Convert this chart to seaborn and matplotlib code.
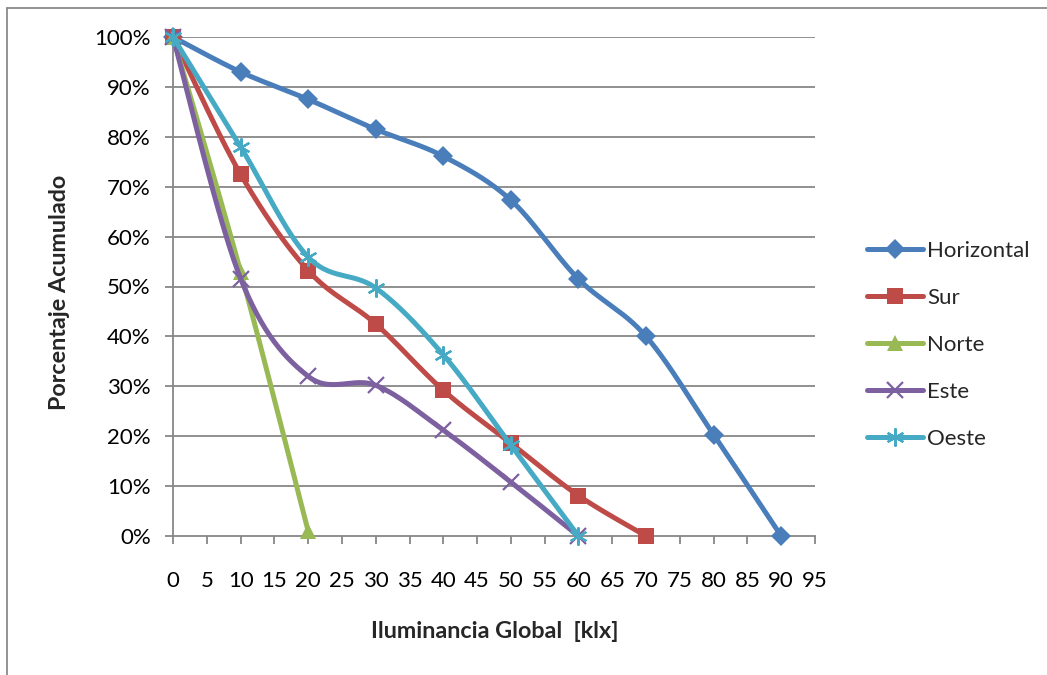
import numpy as np
import pandas as pd
import matplotlib
matplotlib.use("Agg")
import matplotlib.pyplot as plt
from matplotlib.lines import Line2D
import seaborn as sns

# ---------------- data ----------------
series_names = ["Horizontal", "Sur", "Norte", "Este", "Oeste"]
x_horizontal = [0, 10, 20, 30, 40, 50, 60, 70, 80, 90]
y_horizontal = [100, 93.0, 87.5, 81.5, 76.1, 67.3, 51.5, 40.0, 20.3, 0]
x_sur = [0, 10, 20, 30, 40, 50, 60, 70]
y_sur = [100, 72.5, 53.2, 42.5, 29.2, 18.6, 8.1, 0]
x_norte = [0, 10, 20]
y_norte = [100, 53, 1]
x_este = [0, 10, 20, 30, 40, 50, 60]
y_este = [100, 51.6, 32.0, 30.2, 21.2, 10.8, 0]
x_oeste = [0, 10, 20, 30, 40, 50, 60]
y_oeste = [100, 78.0, 55.9, 49.7, 36.3, 18.2, 0]

x_ticks = list(range(0, 100, 5))
y_ticks = [0, 10, 20, 30, 40, 50, 60, 70, 80, 90, 100]
y_ticklabels = ["0%", "10%", "20%", "30%", "40%", "50%", "60%", "70%", "80%", "90%", "100%"]
x_title = "Iluminancia Global  [klx]"
y_title = "Porcentaje Acumulado"

colors = {"Horizontal": "#4A7EBB", "Sur": "#BE4B48", "Norte": "#98B954",
          "Este": "#7D60A0", "Oeste": "#46AAC5"}
series_xy = {"Horizontal": (x_horizontal, y_horizontal), "Sur": (x_sur, y_sur),
             "Norte": (x_norte, y_norte), "Este": (x_este, y_este),
             "Oeste": (x_oeste, y_oeste)}

# Excel-like smoothed line (Catmull-Rom through the data points)
def smooth(xs, ys, n=30):
    P = np.column_stack([xs, ys]).astype(float)
    Pext = np.vstack([P[0], P, P[-1]])
    out = []
    for i in range(len(P) - 1):
        p0, p1, p2, p3 = Pext[i], Pext[i + 1], Pext[i + 2], Pext[i + 3]
        c1 = p1 + (p2 - p0) / 6.0
        c2 = p2 - (p3 - p1) / 6.0
        t = np.linspace(0, 1, n, endpoint=(i == len(P) - 2))[:, None]
        b = ((1 - t) ** 3) * p1 + 3 * ((1 - t) ** 2) * t * c1 + 3 * (1 - t) * t ** 2 * c2 + t ** 3 * p2
        out.append(b)
    return np.vstack(out)

rows = []
for name in series_names:
    xs, ys = series_xy[name]
    c = smooth(xs, ys)
    for k, (a, b) in enumerate(c):
        rows.append({"serie": name, "x": a, "y": b, "k": k})
curves = pd.DataFrame(rows)

# ---------------- style ----------------
sns.set_theme(style="white")
plt.rcParams["font.family"] = ["Lato", "DejaVu Sans"]
grid_c = "#878787"
FS = 16

fig = plt.figure(figsize=(10.47, 6.75), dpi=100)
W, H = 1047, 675
ax = fig.add_axes([173 / W, 1 - 536 / H, (815 - 173) / W, (536 - 37) / H])

markers = {"Horizontal": dict(marker="D", ms=10.5, mew=0),
           "Sur": dict(marker="s", ms=12, mew=0),
           "Norte": dict(marker="^", ms=12, mew=0),
           "Este": dict(marker="x", ms=11, mew=1.6),
           "Oeste": dict(marker=(6, 2, 0), ms=13, mew=1.6)}

for i, name in enumerate(series_names):
    sub = curves[curves["serie"] == name]
    sns.lineplot(data=sub, x="x", y="y", ax=ax, sort=False, estimator=None,
                 color=colors[name], lw=3.6, legend=False, zorder=3 + 2 * i,
                 solid_capstyle="round", clip_on=False)
    xs, ys = series_xy[name]
    ax.plot(xs, ys, ls="none", color=colors[name], zorder=4 + 2 * i,
            clip_on=False, **markers[name])

ax.set_xlim(0, 95)
ax.set_ylim(0, 100)
ax.set_xticks(x_ticks)
ax.set_xticklabels([str(v) for v in x_ticks])
ax.set_yticks(y_ticks)
ax.set_yticklabels(y_ticklabels)
ax.set_xlabel("")
ax.set_ylabel("")
ax.grid(False)
for yv in y_ticks[1:]:
    ax.axhline(yv, color=grid_c, lw=1.3, zorder=1)
for s in ["top", "right"]:
    ax.spines[s].set_visible(False)
for s in ["left", "bottom"]:
    ax.spines[s].set_color(grid_c)
    ax.spines[s].set_linewidth(1.3)
ax.tick_params(axis="both", which="both", direction="out", length=6, width=1.3,
               color=grid_c, labelsize=FS, labelcolor="black")
ax.tick_params(axis="x", pad=19, bottom=True)
ax.tick_params(axis="y", pad=10, left=True)

fig.text(60 / W, 1 - 292 / H, y_title, rotation=90, ha="center", va="center",
         fontsize=16.8, fontweight="bold")
fig.text(495 / W, 1 - 632 / H, x_title, ha="center", va="center",
         fontsize=16.8, fontweight="bold")

handles = [Line2D([], [], color=colors[n], lw=3.6, solid_capstyle="round", **markers[n])
           for n in series_names]
leg = fig.legend(handles, series_names, loc="upper left",
                 bbox_to_anchor=(867 / W, 1 - 241 / H), frameon=False,
                 fontsize=FS, handlelength=2.5, handletextpad=0.2,
                 labelspacing=1.21, borderpad=0, borderaxespad=0)

# chart area border (left and top edges visible)
fig.add_artist(Line2D([7 / W, 7 / W], [0, 1 - 8 / H], color="#8a8a8a", lw=1.3,
                      transform=fig.transFigure))
fig.add_artist(Line2D([7 / W, 1], [1 - 8 / H, 1 - 8 / H], color="#8a8a8a", lw=1.3,
                      transform=fig.transFigure))

fig.savefig("out.png", dpi=100)
